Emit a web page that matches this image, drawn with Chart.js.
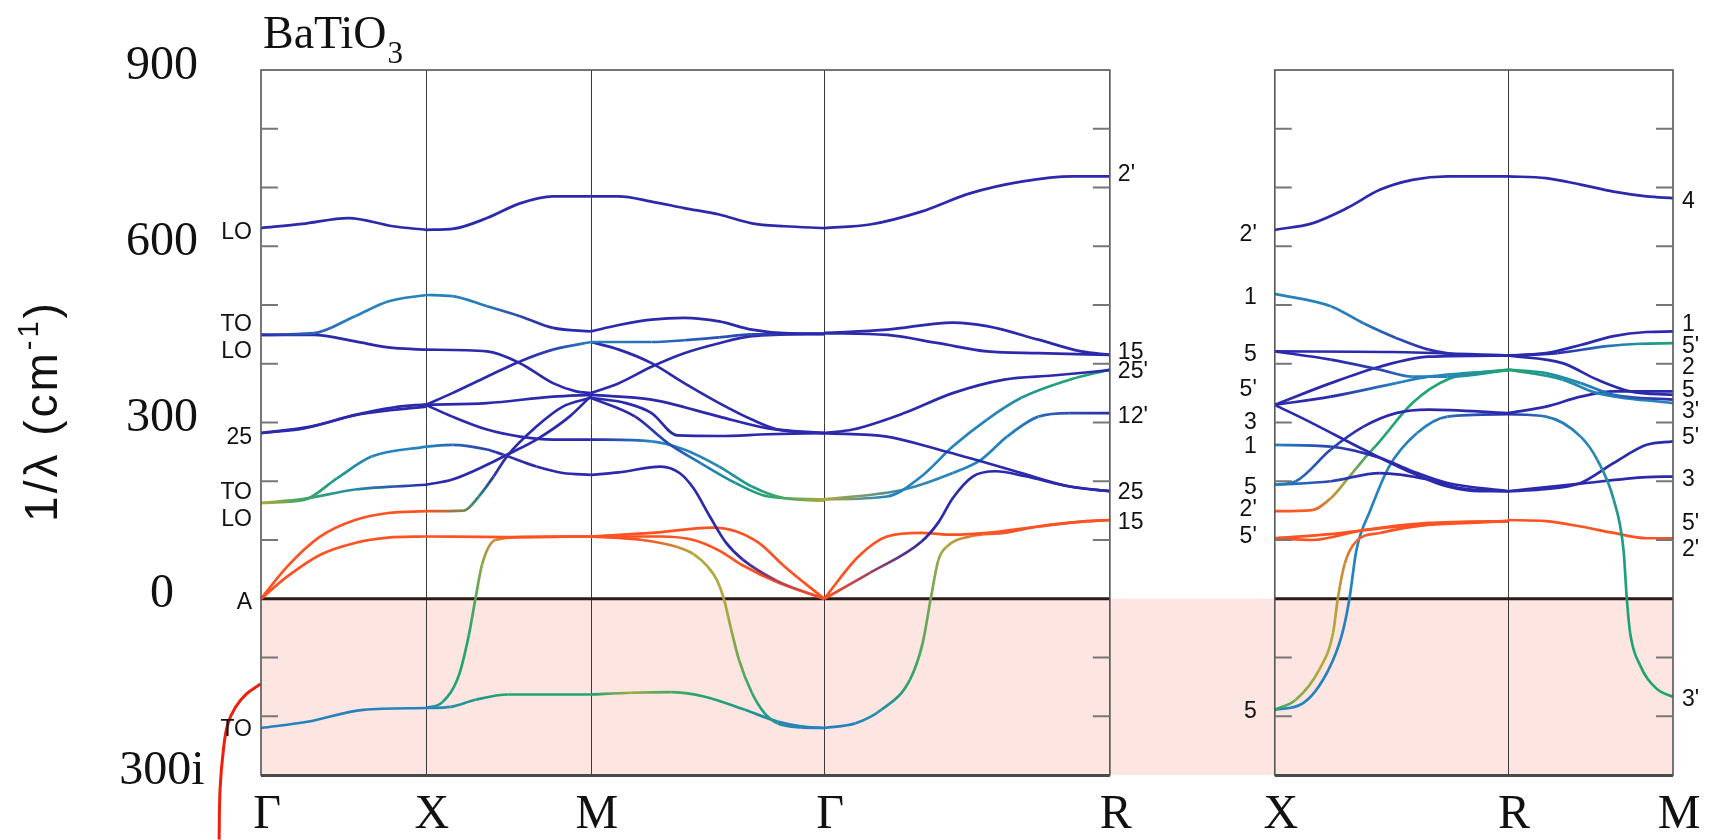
<!DOCTYPE html>
<html>
<head>
<meta charset="utf-8">
<script src="https://cdn.jsdelivr.net/npm/chart.js@4.4.1/dist/chart.umd.min.js"></script>
<style>
  html, body { margin: 0; padding: 0; background: #fff; }
</style>
</head>
<body>
<canvas id="bands" width="1717" height="840"></canvas>
<script>
// path positions of the high-symmetry points (2π/a units), 0.5 gap between panels
const KPOINTS = [0, 0.5, 1.0, 1.7071, 2.5731, 3.0731, 3.7802, 4.2802];
const KLABELS = ['Γ', 'X', 'M', 'Γ', 'R', 'X', 'R', 'M'];
const Y_TICKS = [900, 600, 300, 0, -300];
const Y_TICK_LABELS = ['900', '600', '300', '0', '300i'];
const MINOR_TICKS = [-200, -100, 100, 200, 300, 400, 500, 600, 700, 800];

// bands per segment: [t along segment, frequency cm-1], imaginary shown negative
const GX = [
  [[0,631],[0.25,638],[0.53,648],[0.8,634],[1,628]],
  [[0,449],[0.32,452],[0.57,481],[0.77,506],[1,517]],
  [[0,449],[0.32,449],[0.57,438],[0.77,428],[1,424]],
  [[0,282],[0.26,290],[0.57,313],[0.81,326],[1,331]],
  [[0,282],[0.3,293],[0.6,314],[1,327]],
  [[0,163],[0.26,168],[0.46,205],[0.67,242],[1,259]],
  [[0,163],[0.26,170],[0.57,186],[1,194]],
  [[0,0],[0.16,55],[0.36,106],[0.57,134],[0.77,146],[1,149]],
  [[0,0],[0.16,38],[0.36,75],[0.57,95],[0.77,104],[1,106]],
  [[0,-220],[0.29,-209],[0.62,-189],[1,-186]]
];
const GX_COL = ['b', 'bcc', 'b', 'b', 'b', 'ygcc', 'ygcb', 'r', 'r', 'c'];

const XM = [
  [[0,628],[0.17,630],[0.37,648],[0.57,673],[0.77,685],[1,685]],
  [[0,517],[0.16,515],[0.37,498],[0.57,481],[0.77,461],[1,455]],
  [[0,424],[0.37,421],[0.57,401],[0.77,367],[0.91,353],[1,350]],
  [[0,330],[0.16,350],[0.37,378],[0.57,404],[0.77,424],[1,437]],
  [[0,330],[0.37,333],[0.77,344],[1,347]],
  [[0,330],[0.16,310],[0.37,288],[0.57,276],[0.77,271],[1,271]],
  [[0,259],[0.16,262],[0.37,254],[0.47,245],[0.67,225],[0.83,214],[1,211]],
  [[0,194],[0.16,203],[0.37,228],[0.49,245],[0.67,271],[0.87,310],[1,345]],
  [[0,149],[0.23,150],[0.32,174],[0.41,208],[0.49,242],[0.67,293],[0.83,327],[1,342]],
  [[0,106],[0.5,105],[1,106]],
  [[0,-186],[0.1,-176],[0.2,-130],[0.26,-62],[0.3,0],[0.34,58],[0.42,100],[0.6,105],[1,106]],
  [[0,-186],[0.15,-184],[0.3,-172],[0.5,-163],[1,-163]]
];
const XM_COL = ['b', 'ccbb', 'b', 'bbbc', 'b', 'b', 'cbb', 'b', 'rrgbbbbb', 'r', 'cggyrrrrr', 'cgg'];

const MG = [
  [[0,685],[0.12,685],[0.26,676],[0.4,665],[0.55,654],[0.69,639],[0.83,634],[1,631]],
  [[0,455],[0.12,466],[0.26,475],[0.4,478],[0.55,472],[0.69,458],[0.83,452],[1,451]],
  [[0,437],[0.26,437],[0.4,440],[0.55,445],[0.69,450],[1,451]],
  [[0,437],[0.12,424],[0.26,401],[0.4,367],[0.55,333],[0.69,305],[0.8,288],[1,282]],
  [[0,350],[0.12,367],[0.26,395],[0.4,418],[0.55,435],[0.69,447],[1,451]],
  [[0,347],[0.26,339],[0.55,310],[0.76,290],[1,282]],
  [[0,342],[0.15,333],[0.26,316],[0.37,278],[0.55,277],[0.76,280],[1,282]],
  [[0,342],[0.19,310],[0.33,265],[0.47,231],[0.62,197],[0.76,174],[1,169]],
  [[0,271],[0.26,268],[0.4,254],[0.55,225],[0.69,191],[0.83,171],[1,167]],
  [[0,211],[0.12,215],[0.3,225],[0.38,214],[0.44,188],[0.51,140],[0.58,95],[0.65,67],[0.8,30],[1,0]],
  [[0,106],[0.26,112],[0.52,121],[0.62,115],[0.72,95],[0.83,55],[1,0]],
  [[0,106],[0.3,106],[0.44,100],[0.55,82],[0.65,57],[0.8,28],[1,0]],
  [[0,106],[0.22,100],[0.37,88],[0.44,76],[0.5,55],[0.54,32],[0.57,0],[0.6,-50],[0.635,-104],[0.69,-160],[0.745,-195],[0.8,-212],[0.9,-219],[1,-220]],
  [[0,-163],[0.17,-160],[0.34,-159],[0.48,-166],[0.66,-189],[0.8,-209],[0.9,-217],[1,-220]]
];
const MG_COL = ['b', 'b', 'cb', 'b', 'b', 'b', 'b', 'bbcgy', 'bccgy', 'bbbbbbrr', 'r', 'r', 'rrryygcc', 'gyggcc'];

const GR = [
  [[0,631],[0.16,637],[0.34,659],[0.51,690],[0.69,710],[0.87,719],[1,719]],
  [[0,452],[0.22,458],[0.45,470],[0.57,464],[0.75,441],[0.9,421],[1,415]],
  [[0,452],[0.22,449],[0.4,435],[0.57,421],[0.75,418],[1,415]],
  [[0,282],[0.1,288],[0.28,316],[0.45,350],[0.63,373],[0.8,380],[1,389]],
  [[0,282],[0.22,276],[0.4,254],[0.57,231],[0.69,214],[0.86,191],[1,183]],
  [[0,169],[0.22,174],[0.34,208],[0.45,259],[0.57,305],[0.69,342],[0.86,373],[1,390]],
  [[0,169],[0.28,186],[0.45,214],[0.55,237],[0.64,276],[0.75,310],[0.86,316],[1,316]],
  [[0,0],[0.16,44],[0.34,97],[0.4,130],[0.45,171],[0.52,208],[0.6,217],[0.7,209],[0.86,191],[1,183]],
  [[0,0],[0.12,72],[0.22,106],[0.34,112],[0.45,109],[0.57,112],[0.75,123],[0.92,132],[1,134]],
  [[0,-220],[0.11,-212],[0.2,-189],[0.3,-138],[0.345,-75],[0.373,0],[0.4,66],[0.43,89],[0.51,106],[0.63,112],[0.75,123],[0.92,132],[1,134]]
];
const GR_COL = ['b', 'b', 'b', 'b', 'b', 'ycccgg', 'yccb', 'rrbbbbbbbb', 'r', 'ccgyrrrr'];

const XR = [
  [[0,628],[0.16,639],[0.31,665],[0.45,696],[0.59,713],[0.74,719],[1,719]],
  [[0,519],[0.24,498],[0.38,469],[0.52,444],[0.66,424],[0.81,415],[1,414]],
  [[0,421],[0.5,420],[1,414]],
  [[0,421],[0.24,407],[0.45,390],[0.59,378],[0.74,378],[1,389]],
  [[0,330],[0.24,367],[0.45,395],[0.66,412],[1,414]],
  [[0,330],[0.24,344],[0.52,367],[0.66,378],[1,389]],
  [[0,330],[0.16,299],[0.38,254],[0.59,214],[0.74,191],[0.88,183],[1,183]],
  [[0,262],[0.24,259],[0.45,240],[0.59,217],[0.74,197],[1,183]],
  [[0,194],[0.09,200],[0.24,254],[0.38,293],[0.52,316],[0.66,322],[1,316]],
  [[0,194],[0.24,200],[0.45,214],[0.66,203],[0.8,188],[1,183]],
  [[0,149],[0.16,151],[0.24,171],[0.31,203],[0.38,237],[0.45,268],[0.59,333],[0.74,373],[1,390]],
  [[0,103],[0.16,100],[0.38,117],[0.66,129],[1,132]],
  [[0,103],[0.24,110],[0.5,122],[1,132]],
  [[0,-189],[0.09,-172],[0.19,-121],[0.25,-58],[0.27,0],[0.3,60],[0.35,98],[0.45,112],[0.7,128],[1,132]],
  [[0,-189],[0.12,-178],[0.23,-121],[0.29,-58],[0.32,0],[0.35,83],[0.41,151],[0.49,225],[0.61,282],[0.74,310],[1,314]]
];
const XR_COL = ['b', 'ccbb', 'b', 'bbbccg', 'b', 'bbccg', 'b', 'cbbb', 'cbbb', 'cbbb', 'rryggggg', 'r', 'r', 'gyyrrrrrr', 'cccb'];

const RM = [
  [[0,719],[0.23,716],[0.44,705],[0.64,693],[0.84,685],[1,682]],
  [[0,414],[0.23,418],[0.44,432],[0.64,447],[0.84,454],[1,455]],
  [[0,414],[0.3,418],[0.6,430],[0.8,434],[1,435]],
  [[0,414],[0.33,401],[0.54,373],[0.74,353],[1,347]],
  [[0,390],[0.23,384],[0.44,367],[0.64,347],[1,339]],
  [[0,390],[0.33,373],[0.54,350],[1,333]],
  [[0,316],[0.23,327],[0.44,344],[0.64,353],[1,353]],
  [[0,314],[0.23,310],[0.44,276],[0.54,237],[0.64,169],[0.7,83],[0.72,0],[0.74,-58],[0.8,-113],[0.9,-153],[1,-167]],
  [[0,183],[0.2,186],[0.44,197],[0.64,231],[0.84,262],[1,268]],
  [[0,183],[0.44,196],[0.84,207],[1,208]],
  [[0,134],[0.23,132],[0.44,123],[0.64,112],[0.84,103],[1,103]]
];
const RM_COL = ['b', 'b', 'bbcg', 'b', 'gcb', 'gcc', 'b', 'bccgg', 'b', 'b', 'r'];

// red hand-drawn mark under the left axis: [path position, value], top to bottom
const RED_MARK = [[-0.001,-145],[-0.044,-162],[-0.078,-185],[-0.101,-214],[-0.114,-257],[-0.124,-323],[-0.127,-410]];

// mode labels
const LABELS_G_LEFT = [['LO',623],['TO',466],['LO',420],['25',274],['TO',180],['LO',134],['A',-7],['TO',-223]];
const LABELS_R_RIGHT = [["2'",722],['15',419],["25'",387],["12'",310],['25',180],['15',129]];
const LABELS_X_LEFT = [["2'",620],['1',512],['5',415],["5'",356],['3',300],['1',259],['5',189],["2'",152],["5'",106],['5',-192]];
const LABELS_M_RIGHT = [['4',676],['1',466],["5'",429],['2',394],['5',354],["3'",318],["5'",274],['3',203],["5'",128],["2'",83],["3'",-172]];

const PALETTE = {
  b: [44, 42, 172],
  c: [38, 130, 190],
  g: [30, 165, 112],
  y: [175, 170, 60],
  r: [255, 82, 35]
};

function colorAt(keys, t) {
  if (keys.length === 1) return 'rgb(' + PALETTE[keys].join(',') + ')';
  const p = t * (keys.length - 1);
  const i = Math.min(Math.floor(p), keys.length - 2);
  const f = p - i;
  const a = PALETTE[keys[i]], b = PALETTE[keys[i + 1]];
  return 'rgb(' + a.map((v, k) => Math.round(v + (b[k] - v) * f)).join(',') + ')';
}

const SEG_BANDS = [GX, XM, MG, GR, XR, RM];
const SEG_COLS = [GX_COL, XM_COL, MG_COL, GR_COL, XR_COL, RM_COL];
const SEG_START = [0, 1, 2, 3, 5, 6];

const segmentColor = sc => {
  const ds = sc.chart.data.datasets[sc.datasetIndex];
  const c0 = ds.ptColors[sc.p0DataIndex], c1 = ds.ptColors[sc.p1DataIndex];
  if (c0 === c1) return c0;
  const g = sc.chart.ctx.createLinearGradient(sc.p0.x, sc.p0.y, sc.p1.x, sc.p1.y);
  g.addColorStop(0, c0);
  g.addColorStop(1, c1);
  return g;
};

const datasets = [];
SEG_BANDS.forEach((bands, s) => {
  const x0 = KPOINTS[SEG_START[s]], x1 = KPOINTS[SEG_START[s] + 1];
  bands.forEach((band, b) => {
    const keys = SEG_COLS[s][b];
    datasets.push({
      data: band.map(([t, v]) => ({ x: x0 + t * (x1 - x0), y: v })),
      ptColors: band.map(([t]) => colorAt(keys, t)),
      borderColor: colorAt(keys, 0),
      borderWidth: 2.7,
      cubicInterpolationMode: 'monotone',
      segment: { borderColor: segmentColor }
    });
  });
});
// unsorted x, so every point is drawn even left of the axis
datasets.push({
  data: RED_MARK.map(([x, v]) => ({ x, y: v })),
  borderColor: 'rgb(240,30,10)',
  borderWidth: 3,
  tension: 0.4,
  clip: false
});

const SERIF = '"Liberation Serif", "Times New Roman", serif';
const SANS = '"Liberation Sans", Arial, sans-serif';

const framePlugin = {
  id: 'frame',
  beforeDatasetsDraw(chart) {
    const { ctx, scales: { x, y } } = chart;
    const y0 = y.getPixelForValue(0), yb = y.getPixelForValue(-300), yt = y.getPixelForValue(900);
    ctx.save();
    // imaginary region
    ctx.fillStyle = 'rgb(253,229,226)';
    ctx.fillRect(x.getPixelForValue(KPOINTS[0]), y0, x.getPixelForValue(KPOINTS[7]) - x.getPixelForValue(KPOINTS[0]), yb - y0);
    // symmetry lines
    ctx.strokeStyle = '#3a3a3a';
    ctx.lineWidth = 1;
    [1, 2, 3, 6].forEach(i => {
      const px = Math.round(x.getPixelForValue(KPOINTS[i])) + 0.5;
      ctx.beginPath(); ctx.moveTo(px, yt); ctx.lineTo(px, yb); ctx.stroke();
    });
    // zero line
    ctx.strokeStyle = '#2b1a17';
    ctx.lineWidth = 3;
    [[0, 4], [5, 7]].forEach(([a, b]) => {
      ctx.beginPath();
      ctx.moveTo(x.getPixelForValue(KPOINTS[a]), y0);
      ctx.lineTo(x.getPixelForValue(KPOINTS[b]), y0);
      ctx.stroke();
    });
    ctx.restore();
  },
  afterDatasetsDraw(chart) {
    const { ctx, scales: { x, y } } = chart;
    const yt = y.getPixelForValue(900), yb = y.getPixelForValue(-300);
    ctx.save();
    // panel frames and inner ticks
    [[0, 4], [5, 7]].forEach(([a, b]) => {
      const xl = x.getPixelForValue(KPOINTS[a]), xr = x.getPixelForValue(KPOINTS[b]);
      ctx.strokeStyle = '#555';
      ctx.lineWidth = 1.6;
      ctx.strokeRect(xl, yt, xr - xl, yb - yt);
      ctx.lineWidth = 3;
      ctx.strokeStyle = '#4a4a4a';
      ctx.beginPath(); ctx.moveTo(xl, yb + 0.5); ctx.lineTo(xr, yb + 0.5); ctx.stroke();
      ctx.strokeStyle = '#777';
      ctx.lineWidth = 2;
      MINOR_TICKS.forEach(v => {
        const py = y.getPixelForValue(v);
        ctx.beginPath();
        ctx.moveTo(xl, py); ctx.lineTo(xl + 17, py);
        ctx.moveTo(xr, py); ctx.lineTo(xr - 17, py);
        ctx.stroke();
      });
    });

    // mode labels
    ctx.fillStyle = '#111';
    ctx.font = '23px ' + SANS;
    ctx.textBaseline = 'middle';
    const put = (list, px, align) => {
      ctx.textAlign = align;
      list.forEach(([txt, v]) => ctx.fillText(txt, px, y.getPixelForValue(v)));
    };
    put(LABELS_G_LEFT, x.getPixelForValue(KPOINTS[0]) - 9, 'right');
    put(LABELS_R_RIGHT, x.getPixelForValue(KPOINTS[4]) + 8, 'left');
    put(LABELS_X_LEFT, x.getPixelForValue(KPOINTS[5]) - 18, 'right');
    put(LABELS_M_RIGHT, x.getPixelForValue(KPOINTS[7]) + 9, 'left');

    // y tick labels
    ctx.font = '48px ' + SERIF;
    ctx.textAlign = 'center';
    Y_TICKS.forEach((v, i) => ctx.fillText(Y_TICK_LABELS[i], 162, y.getPixelForValue(v) - 4));

    // x labels
    ctx.font = '48px ' + SERIF;
    KPOINTS.forEach((k, i) => ctx.fillText(KLABELS[i], x.getPixelForValue(k) + 6, 815));

    // title with subscript
    ctx.textAlign = 'left';
    ctx.textBaseline = 'alphabetic';
    ctx.font = '46px ' + SERIF;
    ctx.fillText('BaTiO', 263, 48);
    const w = ctx.measureText('BaTiO').width;
    ctx.font = '31px ' + SERIF;
    ctx.fillText('3', 263 + w + 1, 63);

    // y axis title
    ctx.translate(44, 411);
    ctx.rotate(-Math.PI / 2);
    ctx.textBaseline = 'middle';
    ctx.letterSpacing = '3px';
    const big = '46px ' + SANS, small = '29px ' + SANS;
    ctx.font = big; const w1 = ctx.measureText('1/λ (cm').width;
    ctx.font = small; const w2 = ctx.measureText('-1').width;
    ctx.font = big; const w3 = ctx.measureText(')').width;
    let cx = -(w1 + w2 + w3) / 2;
    ctx.textAlign = 'left';
    ctx.font = big; ctx.fillText('1/λ (cm', cx, 0); cx += w1;
    ctx.font = small; ctx.fillText('-1', cx, -14); cx += w2;
    ctx.font = big; ctx.fillText(')', cx, 0);
    ctx.restore();
  }
};

new Chart(document.getElementById('bands').getContext('2d'), {
  type: 'line',
  data: { datasets },
  options: {
    responsive: false,
    animation: false,
    devicePixelRatio: 1,
    layout: { padding: { left: 261, right: 44, top: 70, bottom: 65 } },
    plugins: { legend: { display: false }, tooltip: { enabled: false } },
    elements: { point: { radius: 0 } },
    scales: {
      x: { type: 'linear', min: KPOINTS[0], max: KPOINTS[7], display: false },
      y: { type: 'linear', min: -300, max: 900, display: false }
    }
  },
  plugins: [framePlugin]
});
</script>
</body>
</html>
